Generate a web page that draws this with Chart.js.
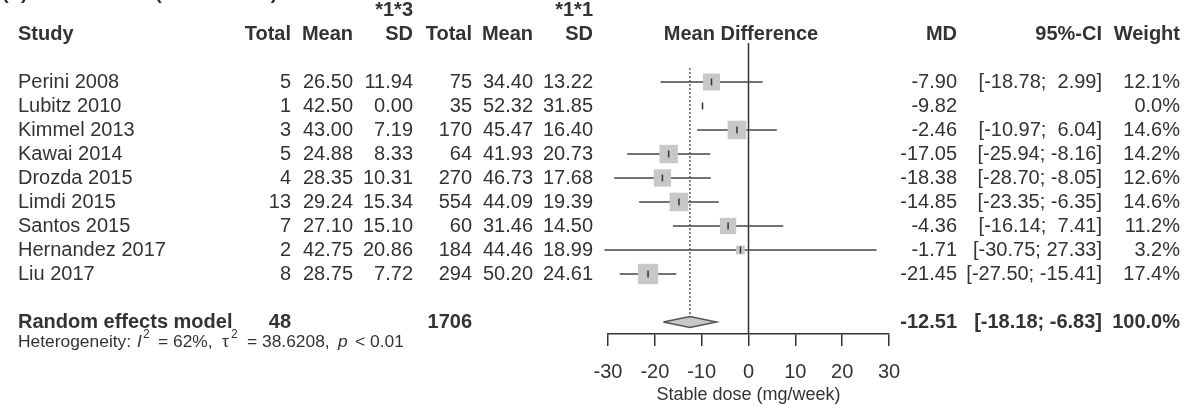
<!DOCTYPE html>
<html>
<head>
<meta charset="utf-8">
<script src="https://cdn.jsdelivr.net/npm/chart.js@4.4.1/dist/chart.umd.min.js"></script>
<style>
  html, body { margin: 0; padding: 0; background: #fff; }
</style>
</head>
<body>
<canvas id="forestChart" width="1187" height="406"></canvas>
<script>
// study rows
const studies = ['Perini 2008', 'Lubitz 2010', 'Kimmel 2013', 'Kawai 2014', 'Drozda 2015',
                 'Limdi 2015', 'Santos 2015', 'Hernandez 2017', 'Liu 2017'];
const totalE = [5, 1, 3, 5, 4, 13, 7, 2, 8];
const meanE = [26.50, 42.50, 43.00, 24.88, 28.35, 29.24, 27.10, 42.75, 28.75];
const sdE = [11.94, 0.00, 7.19, 8.33, 10.31, 15.34, 15.10, 20.86, 7.72];
const totalC = [75, 35, 170, 64, 270, 554, 60, 184, 294];
const meanC = [34.40, 52.32, 45.47, 41.93, 46.73, 44.09, 31.46, 44.46, 50.20];
const sdC = [13.22, 31.85, 16.40, 20.73, 17.68, 19.39, 14.50, 18.99, 24.61];
const md = [-7.90, -9.82, -2.46, -17.05, -18.38, -14.85, -4.36, -1.71, -21.45];
const ciLow = [-18.78, null, -10.97, -25.94, -28.70, -23.35, -16.14, -30.75, -27.50];
const ciHigh = [2.99, null, 6.04, -8.16, -8.05, -6.35, 7.41, 27.33, -15.41];
const weight = [12.1, 0.0, 14.6, 14.2, 12.6, 14.6, 11.2, 3.2, 17.4];

// pooled (random effects)
const pooledLabel = 'Random effects model';
const pooledTotalE = 48;
const pooledTotalC = 1706;
const pooledMD = -12.51;
const pooledLow = -18.18;
const pooledHigh = -6.83;
const pooledWeight = 100.0;

const xTicks = [-30, -20, -10, 0, 10, 20, 30];
const xTitle = 'Stable dose (mg/week)';

const FONT = '"Liberation Sans", Arial, sans-serif';
const INK = '#333';
const summaryRow = 10;

const whiskers = studies.map((s, i) => ({
  type: 'line',
  data: ciLow[i] === null ? [] : [{x: ciLow[i], y: i}, {x: ciHigh[i], y: i}],
  borderColor: '#444', borderWidth: 1.5, pointRadius: 0, order: 4, clip: false
}));

const pts = md.map((v, i) => ({x: v, y: i}));

const datasets = [
  // estimate ticks
  { type: 'scatter', data: pts, pointStyle: 'line', rotation: 90, pointRadius: 3.5,
    borderColor: INK, borderWidth: 1.5, order: 1, clip: false },
  // weight squares
  { type: 'scatter', data: pts, pointStyle: 'rect',
    pointRadius: weight.map(w => w > 0 ? 3.45 * Math.sqrt(w) : 0),
    backgroundColor: '#c8c8c8', borderWidth: 0, order: 2, clip: false },
  // diamond
  { type: 'line', data: [
      {x: pooledLow, y: summaryRow}, {x: pooledMD, y: summaryRow - 0.23},
      {x: pooledHigh, y: summaryRow}, {x: pooledMD, y: summaryRow + 0.23},
      {x: pooledLow, y: summaryRow}],
    fill: 'shape', backgroundColor: '#c8c8c8', borderColor: '#555', borderWidth: 1.5,
    pointRadius: 0, tension: 0, order: 2, clip: false },
  // line of no effect
  { type: 'line', data: [{x: 0, y: -1.625}, {x: 0, y: 10.5}],
    borderColor: INK, borderWidth: 1.5, pointRadius: 0, order: 5, clip: false },
  // pooled estimate, dotted
  { type: 'line', data: [{x: pooledMD, y: -0.58}, {x: pooledMD, y: summaryRow - 0.23}],
    borderColor: '#555', borderWidth: 1.5, borderDash: [2, 2], pointRadius: 0, order: 5, clip: false },
  ...whiskers
];

const col = { study: 18, totalE: 291, meanE: 353, sdE: 413, totalC: 472, meanC: 533, sdC: 593,
              mdHead: 741, md: 957, ci: 1102, weight: 1180 };

function fmtCI(lo, hi) {
  return '[' + lo.toFixed(2) + '; ' + hi.toFixed(2).padStart(5, ' ') + ']';
}

const tablePlugin = {
  id: 'forestTable',
  afterDraw(chart) {
    const ctx = chart.ctx;
    const y = chart.scales.y;
    const put = (str, x, row, align, bold, size, italic) => {
      ctx.font = (italic ? 'italic ' : '') + (bold ? 'bold ' : '') + (size || 20) + 'px ' + FONT;
      ctx.textAlign = align;
      ctx.fillText(str, x, y.getPixelForValue(row));
    };
    ctx.save();
    ctx.fillStyle = INK;

    // clipped panel title at the very top
    ctx.textBaseline = 'alphabetic';
    put('(b)', 2, -3.46, 'left', true, 20);
    put('(*1*3 vs *1*1)', 155, -3.46, 'left', true, 20);
    ctx.textBaseline = 'middle';

    put('*1*3', col.sdE, -3, 'right', true);
    put('*1*1', col.sdC, -3, 'right', true);
    put('Study', col.study, -2, 'left', true);
    put('Total', col.totalE, -2, 'right', true);
    put('Mean', col.meanE, -2, 'right', true);
    put('SD', col.sdE, -2, 'right', true);
    put('Total', col.totalC, -2, 'right', true);
    put('Mean', col.meanC, -2, 'right', true);
    put('SD', col.sdC, -2, 'right', true);
    put('Mean Difference', col.mdHead, -2, 'center', true);
    put('MD', col.md, -2, 'right', true);
    put('95%-CI', col.ci, -2, 'right', true);
    put('Weight', col.weight, -2, 'right', true);

    studies.forEach((s, i) => {
      put(s, col.study, i, 'left');
      put(String(totalE[i]), col.totalE, i, 'right');
      put(meanE[i].toFixed(2), col.meanE, i, 'right');
      put(sdE[i].toFixed(2), col.sdE, i, 'right');
      put(String(totalC[i]), col.totalC, i, 'right');
      put(meanC[i].toFixed(2), col.meanC, i, 'right');
      put(sdC[i].toFixed(2), col.sdC, i, 'right');
      put(md[i].toFixed(2), col.md, i, 'right');
      if (ciLow[i] !== null) put(fmtCI(ciLow[i], ciHigh[i]), col.ci, i, 'right');
      put(weight[i].toFixed(1) + '%', col.weight, i, 'right');
    });

    put(pooledLabel, col.study, summaryRow, 'left', true);
    put(String(pooledTotalE), col.totalE, summaryRow, 'right', true);
    put(String(pooledTotalC), col.totalC, summaryRow, 'right', true);
    put(pooledMD.toFixed(2), col.md, summaryRow, 'right', true);
    put(fmtCI(pooledLow, pooledHigh), col.ci, summaryRow, 'right', true);
    put(pooledWeight.toFixed(1) + '%', col.weight, summaryRow, 'right', true);

    // heterogeneity line (plotmath-like spacing)
    const hy = y.getPixelForValue(10.83);
    const seg = (str, x, size, italic, dy) => {
      ctx.font = (italic ? 'italic ' : '') + size + 'px ' + FONT;
      ctx.textAlign = 'left';
      ctx.fillText(str, x, hy + (dy || 0));
    };
    seg('Heterogeneity:', 18, 17.4);
    seg('I', 137, 17.4, true);
    seg('2', 143, 12, false, -7);
    seg('= 62%,', 158, 17.4);
    seg('\u03c4', 222, 17.4);
    seg('2', 231, 12, false, -7);
    seg('= 38.6208,', 247, 17.4);
    seg('p', 338, 17.4, true);
    seg('< 0.01', 355, 17.4);
    ctx.restore();
  }
};

new Chart(document.getElementById('forestChart'), {
  type: 'scatter',
  data: { datasets: datasets },
  options: {
    responsive: false,
    animation: false,
    events: [],
    layout: { autoPadding: false, padding: { left: 608, right: 298, top: 0, bottom: 0 } },
    plugins: { legend: { display: false }, tooltip: { enabled: false } },
    scales: {
      x: {
        type: 'linear', min: -30, max: 30,
        afterBuildTicks: s => { s.ticks = xTicks.map(v => ({ value: v })); },
        afterFit: s => { s.height = 72; },
        ticks: { font: { family: FONT, size: 20 }, color: INK, padding: 14, maxRotation: 0 },
        grid: { display: true, drawOnChartArea: false, drawTicks: true, tickLength: 12, color: INK, lineWidth: 1.5 },
        border: { display: true, color: INK, width: 1.5 },
        title: { display: true, text: xTitle, font: { family: FONT, size: 18 }, color: INK, padding: 0 }
      },
      y: { type: 'linear', reverse: true, min: -41 / 12, max: 10.5, display: false }
    }
  },
  plugins: [tablePlugin]
});
</script>
</body>
</html>
